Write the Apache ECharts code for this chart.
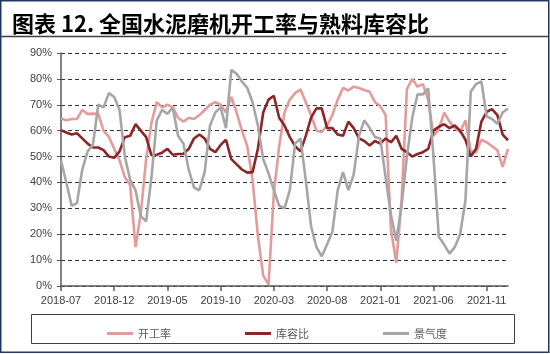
<!DOCTYPE html>
<html>
<head>
<meta charset="utf-8">
<script src="https://cdn.jsdelivr.net/npm/echarts@6/dist/echarts.min.js"></script>
<style>
  html, body { margin: 0; padding: 0; background: #fff; }
  #chart { width: 550px; height: 354px; }
</style>
</head>
<body>
<div id="chart"></div>
<script>
// x ticks, one every 5 months starting 2018-07
const xLabels = ["2018-07", "2018-12", "2019-05", "2019-10", "2020-03", "2020-08", "2021-01", "2021-06", "2021-11"];
const stepMonths = 0.5; // one reading every half month

// 开工率 (%)
const utilization = [
  64.7, 64, 64.5, 64.5, 68, 66.5, 66.6, 66.5, 60, 57.6,
  53, 48.5, 42, 39, 15, 28, 49, 63, 71, 69,
  70, 69, 65, 63.5, 65, 64.5, 66, 68, 70, 71,
  70, 67, 73, 67, 60, 54, 41, 19.4, 4, 0.5,
  36, 54, 67, 72, 74.5, 76, 71, 66, 60, 59.5,
  62, 66, 72, 76.5, 75.5, 77, 76.5, 75.7, 75, 71,
  69.5, 66, 22, 9, 33, 76, 80, 77, 78, 72,
  58, 60.5, 67, 63.5, 61, 59.5, 64, 52, 51.7, 56.5,
  55.5, 54, 52.5, 46, 53
];

// 库容比 (%)
const stockRatio = [
  60.2, 59.3, 58.5, 59, 57, 55, 53.5, 53.5, 52.5, 50,
  49.5, 52, 57.5, 58, 62.5, 60, 57.5, 50.5, 50.7, 51.5,
  53, 50.7, 51, 51, 53, 57, 58.5, 57, 53, 51.7,
  54.5, 56.5, 49, 47, 45, 43.8, 44, 53, 67, 72,
  73.5, 65, 62, 57.5, 54, 52, 58, 65, 68.6, 68.6,
  61, 61, 58.5, 58, 63.5, 61, 57, 56, 54.3, 56,
  55, 57, 55.5, 58, 53, 51.7, 50, 51, 51.7, 53,
  60, 61.5, 62.5, 61, 62, 60, 56.5, 50, 53, 63.5,
  67.3, 68.3, 66, 58.5, 56.3
];

// 景气度 (%)
const sentiment = [
  48.5, 40, 31, 32, 45, 52, 54.5, 70, 69, 74.5,
  73, 68, 50, 41, 37, 27, 25, 42, 64, 68,
  66.5, 69, 58, 55, 45, 38, 37, 44, 62, 67,
  69, 61, 83.5, 82, 79, 76.5, 71, 62, 49, 43.5,
  37, 31, 30, 37, 55, 57, 41, 23, 15, 11.5,
  16, 21, 37, 44, 37, 43, 58, 64, 61, 57.6,
  57, 42, 27.5, 17.5, 31, 50, 65, 74, 74, 76.3,
  50, 19, 16, 12.5, 15, 20, 33, 75, 78, 79,
  65.5, 64.5, 62.7, 67, 68.6
];

const seriesNames = ["开工率", "库容比", "景气度"];
const seriesColors = ["#e39b9b", "#8c2626", "#a6a6a6"];

const chart = echarts.init(document.getElementById("chart"));

const toPoints = (arr) => arr.map((v, i) => [i * stepMonths, v]);
const tickValues = xLabels.map((_, i) => i * 5);
const axisColor = "#595959";
const labelFont = "Liberation Sans, Arial, sans-serif";

const option = {
  animation: false,
  backgroundColor: "#fff",
  title: {
    text: "图表 12. 全国水泥磨机开工率与熟料库容比",
    left: 7,
    top: 8,
    textStyle: {
      fontSize: 22,
      fontWeight: "bold",
      color: "#000",
      fontFamily: "Noto Sans CJK SC, sans-serif",
    },
  },
  graphic: [
    {
      type: "rect",
      shape: { x: 0.75, y: 0.75, width: 548, height: 351.5 },
      style: { fill: "none", stroke: "#1f3864", lineWidth: 1.5 },
      silent: true,
    },
    {
      type: "line",
      shape: { x1: 1, y1: 36.5, x2: 548, y2: 36.5 },
      style: { stroke: "#404040", lineWidth: 1.5 },
      silent: true,
    },
    {
      type: "rect",
      shape: { x: 31.5, y: 314.5, width: 483, height: 29 },
      style: { fill: "none", stroke: "#404040", lineWidth: 1 },
      silent: true,
    },
  ],
  legend: {
    data: seriesNames,
    left: 102,
    top: 323,
    itemWidth: 26,
    itemHeight: 3,
    itemGap: 74,
    icon: "rect",
    textStyle: {
      fontSize: 11,
      color: "#595959",
      fontFamily: "Noto Sans CJK SC, sans-serif",
    },
  },
  grid: {
    left: 61,
    right: 42,
    top: 53,
    bottom: 68,
    containLabel: false,
  },
  xAxis: {
    type: "value",
    min: 0,
    max: (xLabels.length - 1) * 5 + 2,
    splitLine: { show: false },
    axisLine: { lineStyle: { color: axisColor, width: 1.5 } },
    axisTick: {
      customValues: tickValues,
      length: 5,
      lineStyle: { color: axisColor, width: 1.5 },
    },
    axisLabel: {
      customValues: tickValues,
      formatter: (v) => xLabels[Math.round(v / 5)] || "",
      color: "#404040",
      fontSize: 11,
      fontFamily: labelFont,
      margin: 9,
    },
  },
  yAxis: {
    type: "value",
    min: 0,
    max: 90,
    interval: 10,
    axisLine: { show: true, lineStyle: { color: axisColor, width: 1.5 } },
    axisTick: { show: true, length: 4, lineStyle: { color: axisColor } },
    axisLabel: {
      formatter: "{value}%",
      color: "#404040",
      fontSize: 11,
      fontFamily: labelFont,
      margin: 9,
    },
    splitLine: {
      lineStyle: { color: "#333", type: [4, 3], width: 1 },
    },
  },
  series: [utilization, stockRatio, sentiment].map((arr, i) => ({
    name: seriesNames[i],
    type: "line",
    data: toPoints(arr),
    showSymbol: false,
    symbol: "none",
    lineStyle: { color: seriesColors[i], width: 2.6 },
    itemStyle: { color: seriesColors[i] },
  })),
};

chart.setOption(option);
</script>
</body>
</html>
